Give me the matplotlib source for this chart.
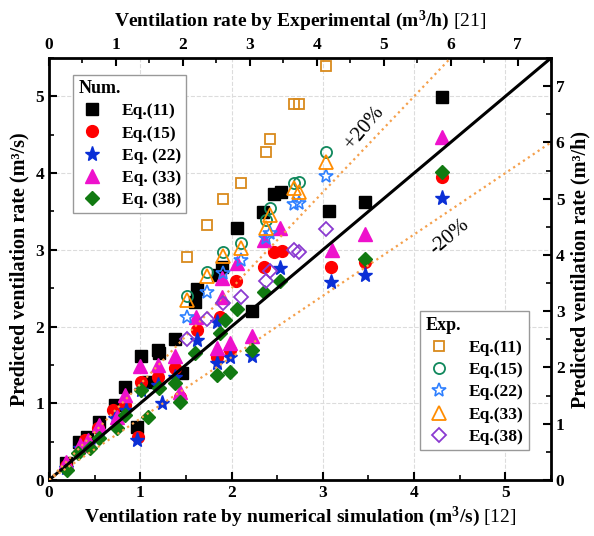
import numpy as np
import matplotlib
matplotlib.use("Agg")
import matplotlib.pyplot as plt
from matplotlib.ticker import MultipleLocator

plt.rcParams["font.family"] = "serif"
plt.rcParams["font.serif"] = ["Liberation Serif", "DejaVu Serif"]
plt.rcParams["font.weight"] = "bold"
plt.rcParams["mathtext.fontset"] = "custom"
plt.rcParams["mathtext.rm"] = "Liberation Serif"
plt.rcParams["mathtext.bf"] = "Liberation Serif:bold"
plt.rcParams["mathtext.it"] = "Liberation Serif:italic"

# numerical simulation (bottom / left axes, m3/s)
num11_x = [0.19, 0.33, 0.42, 0.55, 0.72, 0.83, 0.96, 1.01, 1.08, 1.19, 1.21, 1.38, 1.46,
           1.60, 1.62, 1.85, 1.90, 2.06, 2.22, 2.34, 2.47, 2.54, 3.07, 3.46, 4.31]
num11_y = [0.22, 0.50, 0.56, 0.76, 0.98, 1.21, 0.69, 1.62, 1.28, 1.69, 1.66, 1.84, 1.40,
           2.32, 2.49, 2.67, 2.78, 3.29, 2.20, 3.49, 3.73, 3.75, 3.51, 3.62, 4.99]
num15_x = [0.19, 0.39, 0.54, 0.70, 0.83, 0.97, 1.01, 1.19, 1.38, 1.43, 1.62, 1.84, 1.87,
           1.98, 2.05, 2.36, 2.47, 2.55, 3.09, 3.46, 4.31]
num15_y = [0.18, 0.52, 0.68, 0.91, 0.98, 0.56, 1.28, 1.34, 1.46, 1.08, 1.96, 1.60, 2.13,
           1.69, 2.59, 2.78, 2.97, 2.99, 2.78, 2.84, 3.95]
num22_x = [0.19, 0.34, 0.43, 0.56, 0.72, 0.84, 0.96, 1.01, 1.19, 1.24, 1.38, 1.62, 1.84,
           1.84, 1.98, 2.22, 2.53, 3.09, 3.46, 4.31]
num22_y = [0.16, 0.42, 0.46, 0.63, 0.81, 0.91, 0.52, 1.17, 1.24, 1.00, 1.34, 1.83, 1.53,
           2.06, 1.60, 1.62, 2.76, 2.58, 2.67, 3.68]
num33_x = [0.19, 0.34, 0.43, 0.55, 0.74, 0.83, 1.00, 1.19, 1.38, 1.43, 1.61, 1.84, 1.89,
           1.90, 1.98, 2.06, 2.22, 2.36, 2.53, 3.10, 3.46, 4.31]
num33_y = [0.23, 0.46, 0.52, 0.72, 0.82, 1.11, 1.49, 1.50, 1.62, 1.15, 2.13, 1.72, 2.39,
           2.63, 1.79, 2.83, 1.88, 3.13, 3.29, 3.00, 3.21, 4.47]
num38_x = [0.20, 0.32, 0.45, 0.55, 0.75, 0.83, 1.01, 1.08, 1.21, 1.38, 1.43, 1.60, 1.84,
           1.87, 1.93, 1.98, 2.06, 2.22, 2.36, 2.53, 3.46, 4.31]
num38_y = [0.13, 0.35, 0.42, 0.55, 0.68, 0.85, 1.17, 0.82, 1.20, 1.26, 1.02, 1.66, 1.37,
           1.92, 2.09, 1.41, 2.23, 1.69, 2.45, 2.59, 2.88, 4.02]

# experimental (top / right axes, m3/h)
exp_x = [2.06, 2.36, 2.60, 2.87, 3.24, 3.30, 3.66, 3.74, 4.14]
exp11_y = [3.96, 4.53, 4.99, 5.28, 5.83, 6.06, 6.68, 6.68, 7.36]
exp15_y = [3.27, 3.70, 4.05, 4.21, 4.62, 4.83, 5.28, 5.30, 5.83]
exp22_y = [2.90, 3.34, 3.68, 3.91, 4.30, 4.39, 4.90, 4.92, 5.40]
exp33_y = [3.20, 3.63, 3.98, 4.12, 4.48, 4.71, 5.19, 5.12, 5.65]
exp38_y = [2.51, 2.86, 3.15, 3.25, 3.54, 3.71, 4.09, 4.05, 4.46]

num_labels = ["Eq.(11)", "Eq.(15)", "Eq. (22)", "Eq. (33)", "Eq. (38)"]
exp_labels = ["Eq.(11)", "Eq.(15)", "Eq.(22)", "Eq.(33)", "Eq.(38)"]

fig = plt.figure(figsize=(5.94, 5.36), dpi=100)
rect = [49 / 594, 1 - 480 / 536, 502 / 594, 422 / 536]
ax = fig.add_axes(rect)
ax2 = fig.add_axes(rect, frameon=False, label="exp")

ax.set_xlim(0, 5.5)
ax.set_ylim(0, 5.5)
ax2.set_xlim(0, 7.5)
ax2.set_ylim(0, 7.5)

ax.grid(True, which="major", ls="--", color="#dcdcdc", lw=0.8)
ax.set_axisbelow(True)

# reference lines
xs = np.array([0, 5.5])
ax.plot(xs, xs, color="black", lw=2.2, zorder=5)
ax.plot(xs, 1.25 * xs, color="#f5a04c", ls=":", lw=1.6, zorder=5)
ax.plot(xs, 0.8 * xs, color="#f5a04c", ls=":", lw=1.6, zorder=5)

# numerical points
h_num = []
h_num.append(ax.plot(num11_x, num11_y, "s", color="black", ms=8, ls="none", zorder=3)[0])
h_num.append(ax.plot(num15_x, num15_y, "o", color="#ff0000", ms=8.5, ls="none", zorder=3)[0])
h_num.append(ax.plot(num22_x, num22_y, "*", color="#0a2fd6", ms=11, ls="none", zorder=3)[0])
h_num.append(ax.plot(num33_x, num33_y, "^", color="#ee11cc", ms=9.5, ls="none", zorder=3)[0])
h_num.append(ax.plot(num38_x, num38_y, "D", color="#117a11", ms=7.5, ls="none", zorder=3)[0])

# experimental points
h_exp = []
h_exp.append(ax2.plot(exp_x, exp11_y, "s", mfc="none", mec="#d98a1c", mew=1.3, ms=7.5, ls="none")[0])
h_exp.append(ax2.plot(exp_x, exp15_y, "o", mfc="none", mec="#10885c", mew=1.3, ms=8, ls="none")[0])
h_exp.append(ax2.plot(exp_x, exp22_y, "*", mfc="none", mec="#2f80ff", mew=1.2, ms=10.5, ls="none")[0])
h_exp.append(ax2.plot(exp_x, exp33_y, "^", mfc="none", mec="#ff8c00", mew=1.3, ms=9.5, ls="none")[0])
h_exp.append(ax2.plot(exp_x, exp38_y, "D", mfc="none", mec="#8a3ad0", mew=1.3, ms=7.5, ls="none")[0])

ax.text(3.46, 4.59, "+20%", rotation=50, fontsize=15, fontweight="normal",
        ha="center", va="center")
ax.text(4.39, 3.17, "-20%", rotation=40, fontsize=15, fontweight="normal",
        ha="center", va="center")

# ticks
ax.xaxis.set_major_locator(MultipleLocator(1))
ax.yaxis.set_major_locator(MultipleLocator(1))
ax.xaxis.set_minor_locator(MultipleLocator(0.5))
ax.yaxis.set_minor_locator(MultipleLocator(0.5))
ax2.xaxis.set_major_locator(MultipleLocator(1))
ax2.yaxis.set_major_locator(MultipleLocator(1))
ax2.xaxis.set_minor_locator(MultipleLocator(0.5))
ax2.yaxis.set_minor_locator(MultipleLocator(0.5))
ax2.xaxis.tick_top()
ax2.xaxis.set_label_position("top")
ax2.yaxis.tick_right()
ax2.yaxis.set_label_position("right")

for a in (ax, ax2):
    a.tick_params(which="major", direction="in", length=6, width=1.5, labelsize=12.5)
    a.tick_params(which="minor", direction="in", length=3.5, width=1.2)
for sp in ax.spines.values():
    sp.set_linewidth(2)

ax.set_xlabel(r"$\mathbf{Ventilation\ rate\ by\ numerical\ simulation\ (m^3/s)}$ [12]",
              fontsize=14, fontweight="normal", labelpad=3)
ax.set_ylabel("Predicted ventilation rate (m³/s)", fontsize=14.5, fontweight="bold",
              labelpad=4)
ax2.set_xlabel(r"$\mathbf{Ventilation\ rate\ by\ Experimental\ (m^3/h)}$ [21]",
               fontsize=14, fontweight="normal", labelpad=8)
ax2.set_ylabel("Predicted ventilation rate (m³/h)", fontsize=14.5, fontweight="bold",
               labelpad=4)

leg_kw = dict(frameon=True, fancybox=False, edgecolor="#999999", framealpha=1,
              prop={"weight": "bold", "size": 12.5},
              title_fontproperties={"weight": "bold", "size": 13},
              alignment="left", handletextpad=0.9, labelspacing=0.35,
              borderpad=0.3, handlelength=1.6, borderaxespad=0)
leg1 = ax.legend(h_num, num_labels, title="Num.", loc="upper left",
                 bbox_to_anchor=(0.048, 0.96), **leg_kw)
leg1.set_zorder(10)
leg1.get_frame().set_linewidth(1.0)
leg2 = ax2.legend(h_exp, exp_labels, title="Exp.", loc="lower right",
                  bbox_to_anchor=(0.956, 0.071), **leg_kw)
leg2.get_frame().set_linewidth(1.0)

fig.savefig("out.png", dpi=100)
